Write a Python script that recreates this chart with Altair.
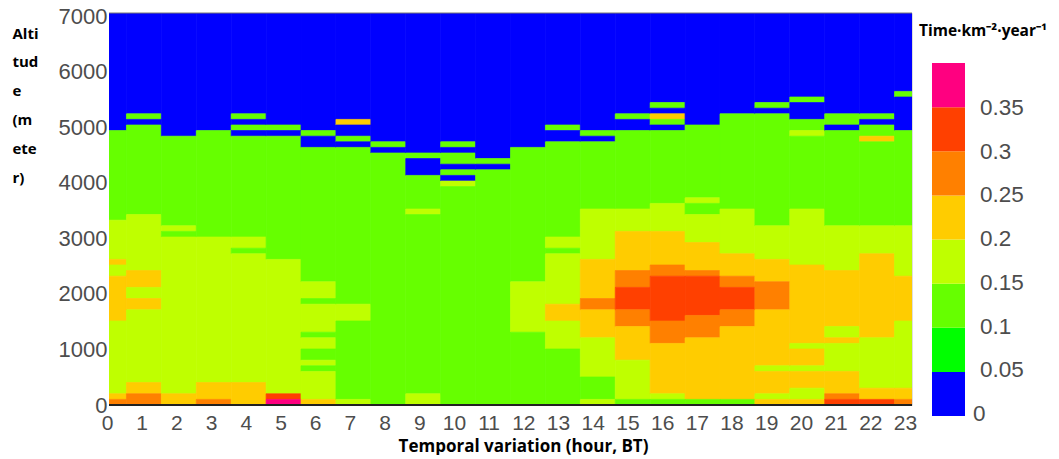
import altair as alt
import pandas as pd

# Each hour: (top altitude of band, lower class edge), from the top of the chart down.
H00 = [(7000,0),(4900,.1),(3300,.15),(2600,.2),(2500,.15),(2300,.2),(1500,.15),(200,.2),(100,.25)]
H01 = [(7000,0),(5200,.1),(5100,0),(5000,.1),(3400,.15),(2400,.2),(2100,.15),(1900,.2),(1700,.15),(400,.2),(200,.25)]
H02 = [(7000,0),(4800,.1),(3200,.15),(3100,.1),(3000,.15),(200,.2)]
H03 = [(7000,0),(4900,.1),(3000,.15),(400,.2),(100,.25)]
H04 = [(7000,0),(5200,.1),(5100,0),(5000,.1),(4900,0),(4800,.1),(3000,.15),(2800,.1),(2700,.15),(400,.2)]
H05 = [(7000,0),(5000,.1),(4900,0),(4800,.1),(2600,.15),(200,.3),(100,.35)]
H06 = [(7000,0),(4900,.1),(4800,0),(4600,.1),(2200,.15),(1900,.1),(1800,.15),(1300,.1),(1200,.15),(1000,.1),(800,.15),(700,.1),(600,.15),(100,.2)]
H07 = [(7000,0),(5100,.2),(5000,0),(4800,.1),(4700,0),(4600,.1),(1800,.15),(1500,.1),(100,.15)]
H08 = [(7000,0),(4700,.1),(4600,0),(4500,.1)]
H09 = [(7000,0),(4500,.1),(4400,0),(4100,.1),(3500,.15),(3400,.1),(200,.15)]
H10 = [(7000,0),(4700,.1),(4600,0),(4500,.1),(4300,0),(4200,.1),(4100,0),(4000,.15),(3900,.1)]
H11 = [(7000,0),(4400,.1),(4300,0),(4200,.1)]
H12 = [(7000,0),(4600,.1),(2200,.15),(1300,.1)]
H13 = [(7000,0),(5000,.1),(4900,0),(4700,.1),(3000,.15),(2800,.1),(2700,.15),(1800,.2),(1500,.15),(1000,.1)]
H14 = [(7000,0),(4900,.1),(4800,0),(4700,.1),(3500,.15),(2600,.2),(1900,.25),(1700,.2),(1200,.15),(500,.1),(100,.15)]
H15 = [(7000,0),(5200,.1),(5100,0),(4900,.1),(3500,.15),(3100,.2),(2400,.25),(2100,.3),(1700,.25),(1400,.2),(800,.15),(100,.1)]
H16 = [(7000,0),(5400,.1),(5300,0),(5200,.2),(5100,.1),(5000,0),(4900,.1),(3600,.15),(3100,.2),(2500,.25),(2300,.3),(1500,.25),(1100,.2),(200,.15),(100,.1)]
H17 = [(7000,0),(5000,.1),(3700,.15),(3600,.1),(3400,.15),(2900,.2),(2400,.25),(2300,.3),(1600,.25),(1200,.2),(100,.1)]
H18 = [(7000,0),(5200,.1),(3500,.15),(2700,.2),(2300,.25),(2100,.3),(1700,.25),(1400,.2),(100,.1)]
H19 = [(7000,0),(5400,.1),(5300,0),(5200,.1),(3200,.15),(2600,.2),(2200,.25),(1700,.2),(700,.15),(600,.2),(200,.15),(100,.2)]
H20 = [(7000,0),(5500,.1),(5400,0),(5100,.1),(4900,.15),(4800,.1),(3500,.15),(2500,.2),(1100,.15),(1000,.2),(700,.15),(600,.2),(300,.15),(100,.2)]
H21 = [(7000,0),(5200,.1),(5000,0),(4900,.1),(3200,.15),(2400,.2),(1400,.15),(1200,.2),(1100,.15),(600,.2),(200,.25),(100,.3)]
H22 = [(7000,0),(5200,.1),(5100,0),(5000,.1),(4800,.2),(4700,.1),(3200,.15),(2700,.2),(1200,.15),(300,.2),(100,.3)]
H23 = [(7000,0),(5600,.1),(5500,0),(4900,.1),(3200,.15),(2300,.2),(1500,.15),(300,.2),(100,.25)]
HOURS = [H00,H01,H02,H03,H04,H05,H06,H07,H08,H09,H10,H11,H12,H13,H14,H15,H16,H17,H18,H19,H20,H21,H22,H23]

CLASS_EDGES = [0, .05, .1, .15, .2, .25, .3, .35]
CLASS_COLORS = ["#0000ff", "#00ff00", "#66ff00", "#bfff00", "#ffcc00", "#ff8000", "#ff4000", "#ff0080"]
LEGEND_LABELS = ["0", "0.05", "0.1", "0.15", "0.2", "0.25", "0.3", "0.35"]
X_TICKS = list(range(24))
Y_TICKS = [0, 1000, 2000, 3000, 4000, 5000, 6000, 7000]

rows = []
for hour, bands in enumerate(HOURS):
    for i, (top, cls) in enumerate(bands):
        bottom = bands[i + 1][0] if i + 1 < len(bands) else 0
        rows.append(dict(h0=hour - .5, h1=hour + .5, top=top, bottom=bottom, v=cls))
cells = pd.DataFrame(rows)
legend = pd.DataFrame(dict(low=CLASS_EDGES, high=CLASS_EDGES[1:] + [.4], label=LEGEND_LABELS))

W, H = 803, 392
TICK_COLOR = "#4d4d4d"
class_scale = alt.Scale(type="threshold", domain=CLASS_EDGES[1:], range=CLASS_COLORS)
FONT_B = "Open Sans"

heat = alt.Chart(cells).mark_rect(clip=True, strokeWidth=0.7).encode(
    x=alt.X("h0:Q", scale=alt.Scale(domain=[0, 23], nice=False, zero=False), axis=None),
    x2="h1:Q",
    y=alt.Y("top:Q", scale=alt.Scale(domain=[0, 7000], nice=False), axis=None),
    y2="bottom:Q",
    color=alt.Color("v:Q", legend=None, scale=class_scale),
    stroke=alt.Stroke("v:Q", legend=None, scale=class_scale),
)

# The source figure's tick labels sit slightly off the columns and rows they name.
x_axis = alt.Chart(pd.DataFrame(dict(h=X_TICKS))).mark_tick(opacity=0).encode(
    x=alt.X("h:Q", scale=alt.Scale(domain=[0, 23], range=[-2, 796], nice=False, zero=False),
            axis=alt.Axis(values=X_TICKS, format="d", grid=False, domain=False,
                          ticks=False, labelFont="Liberation Sans", labelFontSize=21,
                          labelColor=TICK_COLOR, labelPadding=7, labelFlush=False,
                          labelOverlap=False,
                          title="Temporal variation (hour, BT)", titleFont=FONT_B,
                          titleFontWeight="bold", titleFontSize=17, titleColor="black",
                          titleX=414, titleY=33)),
)
y_axis = alt.Chart(pd.DataFrame(dict(y=Y_TICKS))).mark_tick(opacity=0).encode(
    y=alt.Y("y:Q", scale=alt.Scale(domain=[0, 7000], range=[392, 3], nice=False),
            axis=alt.Axis(values=Y_TICKS, format="d", grid=False, domain=False, ticks=False,
                          labelFont="Liberation Sans", labelFontSize=22, labelColor=TICK_COLOR,
                          labelPadding=2, labelOverlap=False, labelFlush=False,
                          title=["Alti", "tud", "e", "(m", "ete", "r)"],
                          titleFont=FONT_B, titleFontWeight="bold", titleFontSize=15,
                          titleColor="black", titleAngle=0, titleAlign="left",
                          titleBaseline="middle", titleLineHeight=28.8,
                          titleX=-97, titleY=20)),
)

top_line = alt.Chart(pd.DataFrame(dict(y=[7000]))).mark_rule(color="#777777", strokeWidth=1).encode(
    y=alt.Y("y:Q", scale=alt.Scale(domain=[0, 7000], nice=False), axis=None),
)
base_line = alt.Chart(pd.DataFrame(dict(y=[0]))).mark_rule(color="#222222", strokeWidth=2).encode(
    y=alt.Y("y:Q", scale=alt.Scale(domain=[0, 7000], nice=False), axis=None),
)

legend_y = alt.Y("low:Q", scale=alt.Scale(domain=[0, .4], range=[403, 50], nice=False), axis=None)
legend_bar = alt.Chart(legend).mark_rect(clip=False, strokeWidth=0).encode(
    x=alt.value(823), x2=alt.value(856),
    y=legend_y, y2="high:Q",
    color=alt.Color("low:Q", legend=None, scale=class_scale),
)
label_y = alt.Y("low:Q", scale=alt.Scale(domain=[0, .35], range=[401, 95], nice=False), axis=None)
text_mark = dict(align="left", baseline="middle", font="Liberation Sans", fontSize=22.5,
                 color=TICK_COLOR, clip=False)
legend_text = alt.Chart(legend).transform_filter("datum.low > 0").mark_text(**text_mark).encode(
    x=alt.value(871), y=label_y, text="label:N",
)
legend_zero = alt.Chart(legend).transform_filter("datum.low === 0").mark_text(**text_mark).encode(
    x=alt.value(864), y=label_y, text="label:N",
)
legend_title = alt.Chart(pd.DataFrame(dict(t=["Time·km⁻²·year⁻¹"]))).mark_text(
    align="left", baseline="middle", font=FONT_B, fontWeight="bold", fontSize=15.5, color="black"
).encode(x=alt.value(810), y=alt.value(18), text="t:N")

chart = alt.layer(heat, x_axis, y_axis, top_line, base_line, legend_bar, legend_text, legend_zero, legend_title).resolve_scale(
    x="independent", y="independent", color="independent", stroke="independent"
).properties(
    width=W, height=H,
    padding={"left": 101, "top": 5, "right": 139, "bottom": 50},
    autosize=alt.AutoSizeParams(type="none", contains="content"),
).configure_view(stroke=None).configure(background="white")

chart.save("out.html", embed_options={"renderer": "svg", "actions": False})
